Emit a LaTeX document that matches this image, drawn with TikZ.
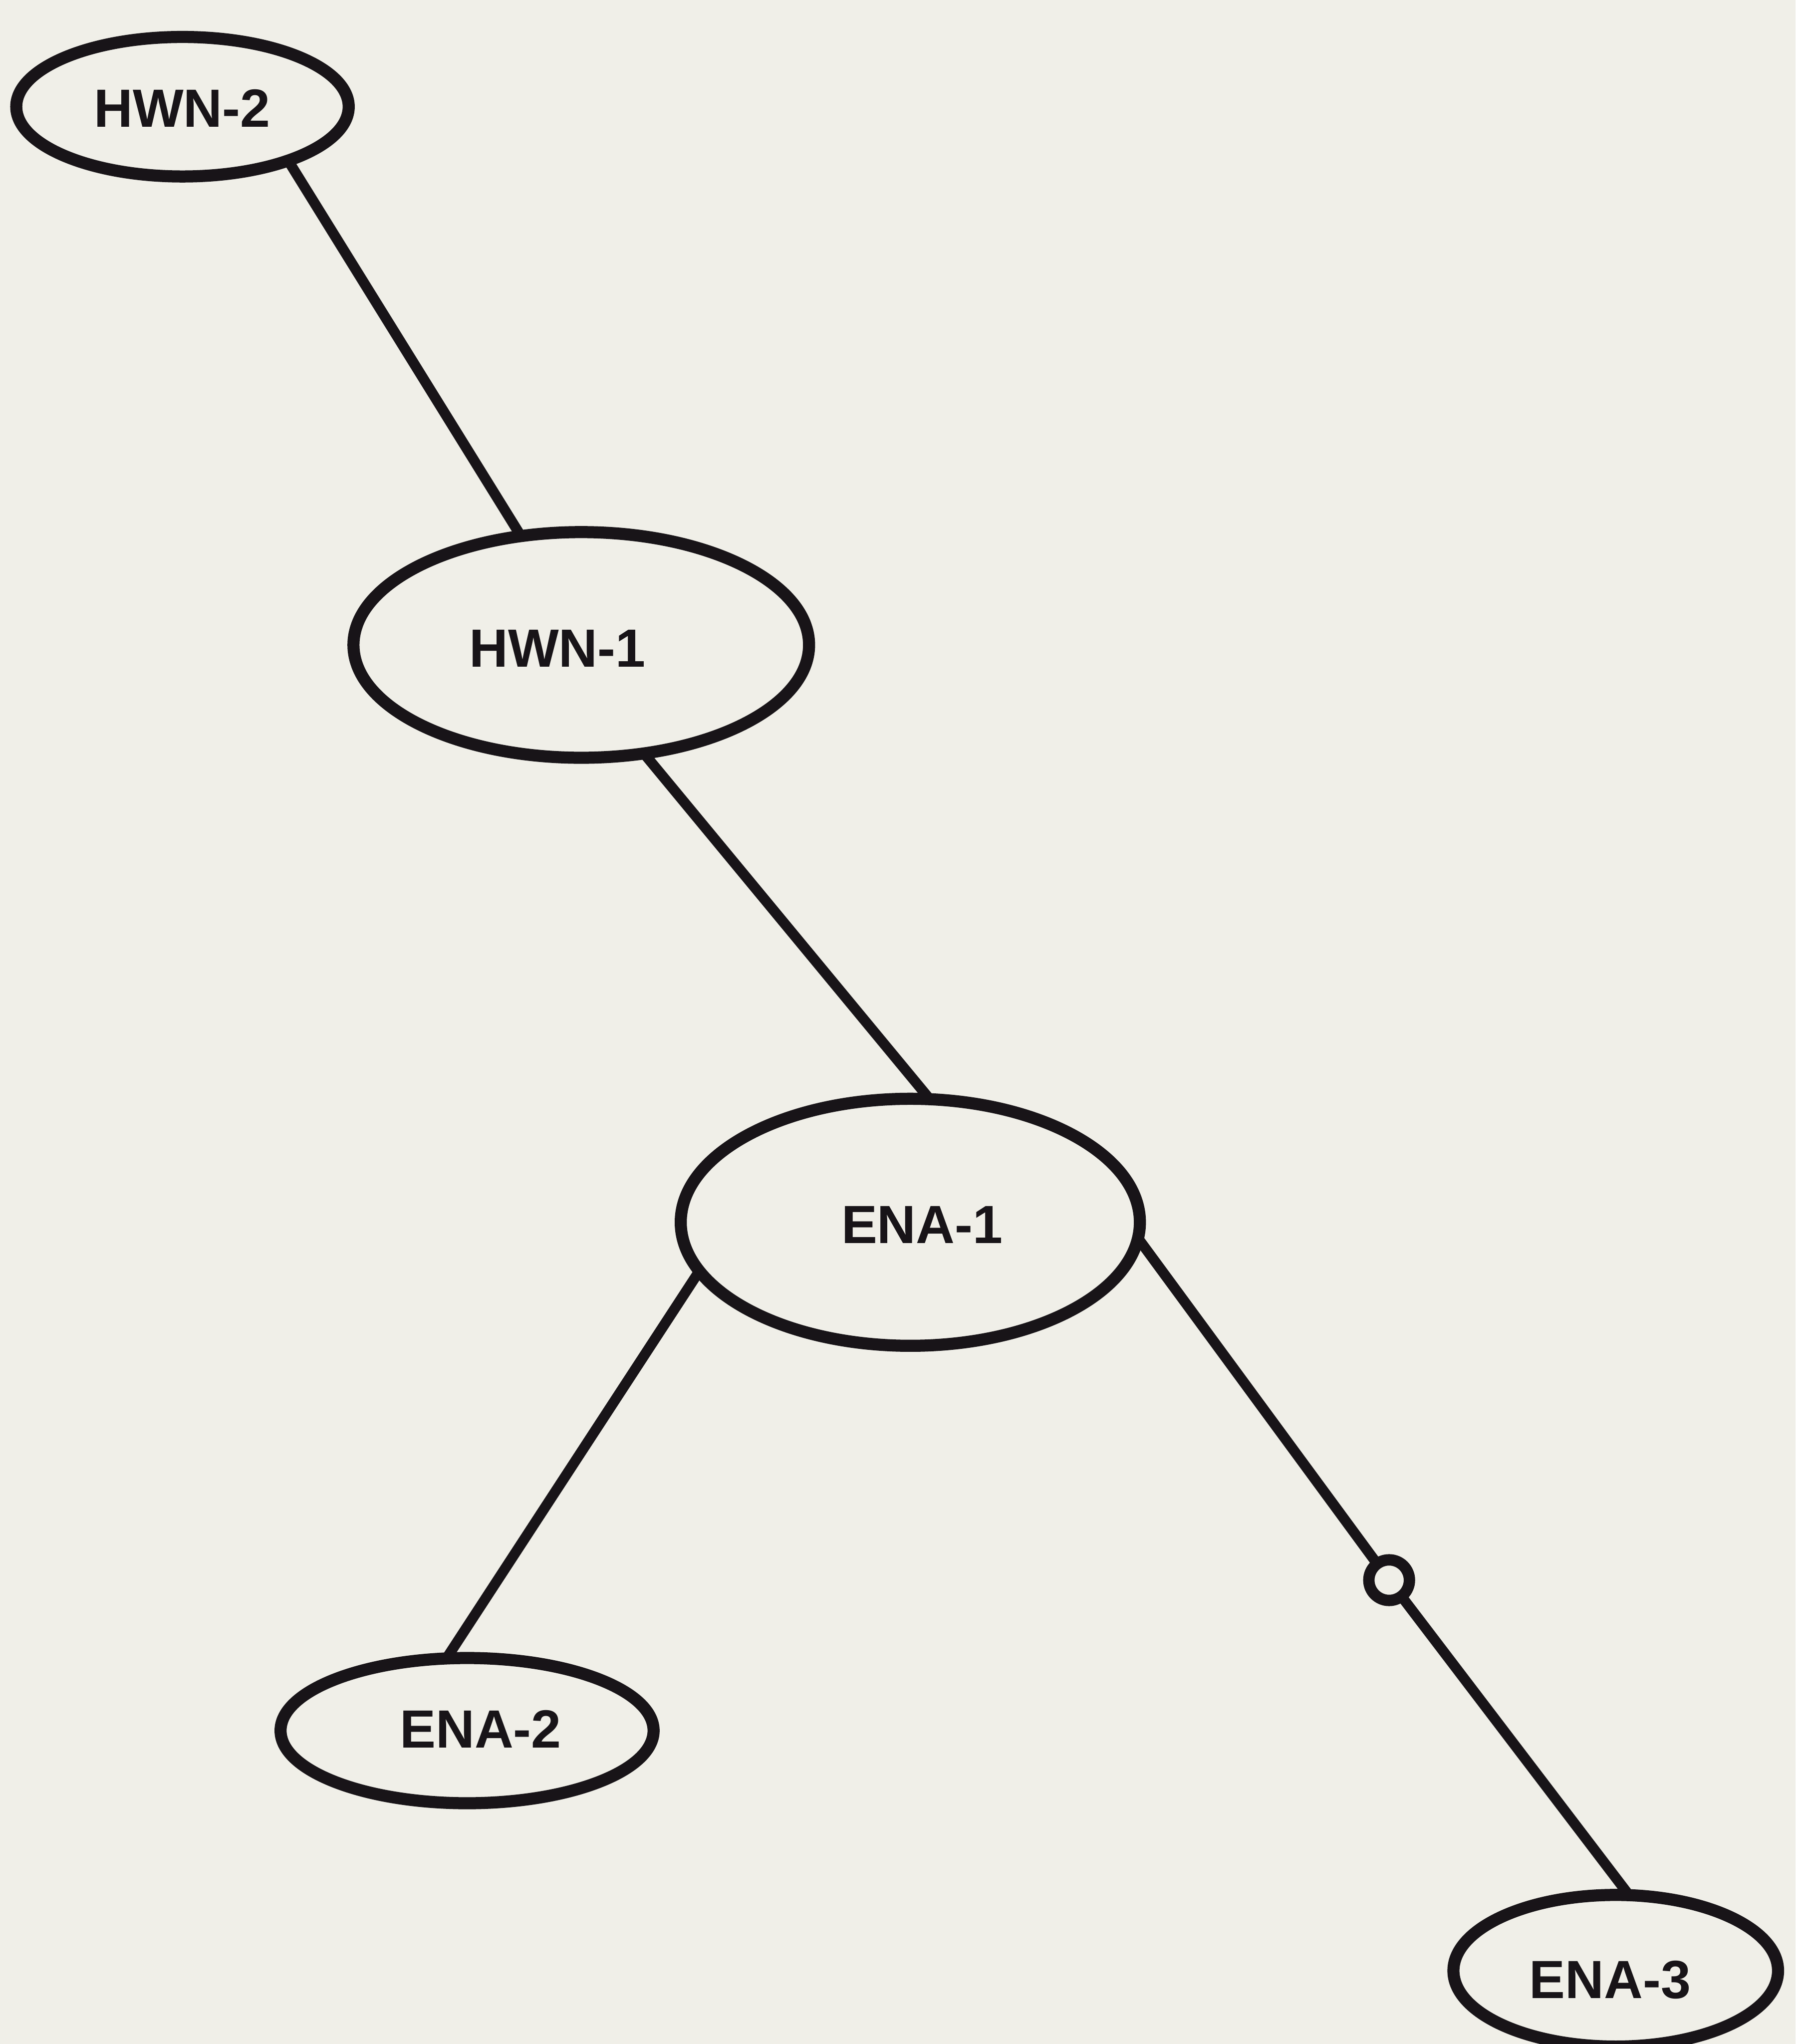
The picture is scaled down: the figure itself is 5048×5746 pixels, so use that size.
\documentclass[tikz,border=0pt]{standalone}
\usepackage{fontspec}
\setmainfont{Liberation Sans}
\usetikzlibrary{shapes.geometric}
\definecolor{paper}{RGB}{240,239,232}
\definecolor{ink}{RGB}{24,20,24}
\begin{document}
\begin{tikzpicture}[x=0.01cm, y=-0.01cm,
  oval/.style={ellipse, draw=ink, line width=0.34cm, inner sep=0pt, outer sep=0pt},
  tag/.style={inner sep=0pt, outer sep=0pt, text=ink,
    font=\fontsize{43}{48}\selectfont\bfseries},
  link/.style={draw=ink, line width=0.29cm},
  ring/.style={circle, draw=ink, fill=paper, line width=0.32cm,
    minimum size=1.14cm, inner sep=0pt, outer sep=0pt}]
  % page
  \fill[paper] (0,0) rectangle (5048,5746);
  \useasboundingbox (0,0) rectangle (5048,5746);

  % nodes
  \node[oval, minimum width=9.34cm,  minimum height=3.92cm] (hwn2) at (513,300)   {};
  \node[oval, minimum width=12.80cm, minimum height=6.34cm] (hwn1) at (1634,1813) {};
  \node[oval, minimum width=12.90cm, minimum height=6.94cm] (ena1) at (2559,3436) {};
  \node[oval, minimum width=10.48cm, minimum height=4.08cm] (ena2) at (1313,4865) {};
  \node[oval, minimum width=9.12cm,  minimum height=4.26cm] (ena3) at (4542,5540) {};

  % labels
  \node[tag] (hwn2t) at (512,304)   {HWN-2};
  \node[tag] (hwn1t) at (1567,1823) {HWN-1};
  \node[tag] (ena1t) at (2592,3443) {ENA-1};
  \node[tag] (ena2t) at (1351,4860) {ENA-2};
  \node[tag] (ena3t) at (4526,5565) {ENA-3};

  % small ring on the ENA-1 / ENA-3 link
  \node[ring] (mark) at (3905,4442) {};

  % links
  \draw[link] (hwn2.-27)  -- (hwn1.119);
  \draw[link] (hwn1.-60)  -- (ena1.81);
  \draw[link] (ena1.-167) -- (ena2.106);
  \draw[link] (ena1.-4)   -- (mark);
  \draw[link] (mark)      -- (ena3.80);
\end{tikzpicture}
\end{document}
